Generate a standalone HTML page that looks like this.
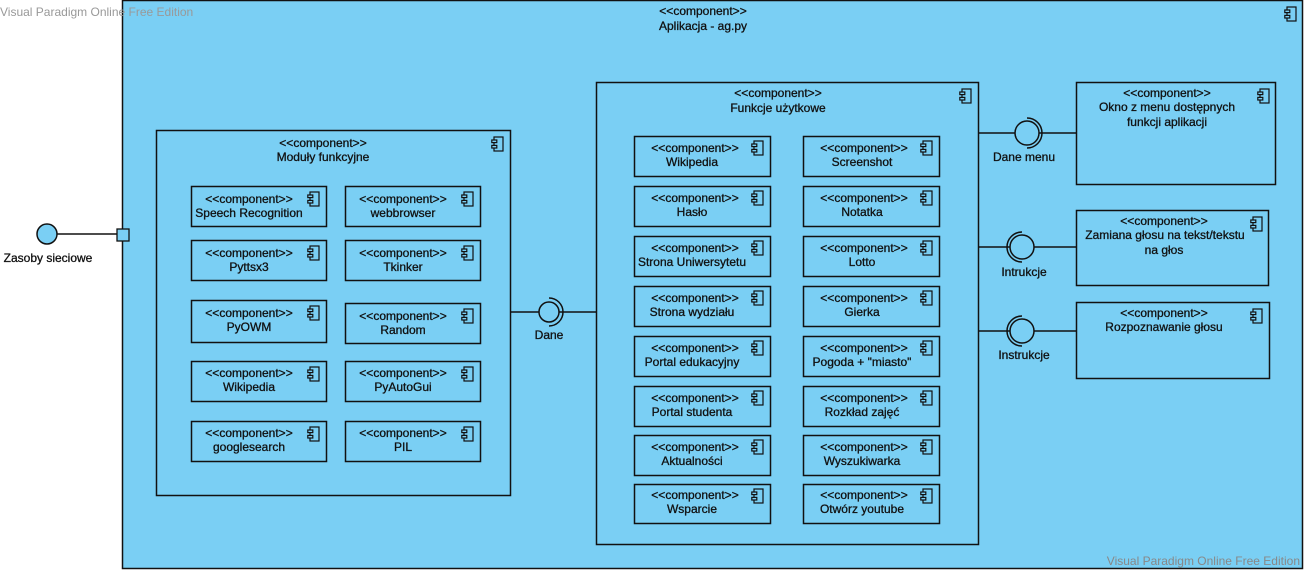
<!DOCTYPE html>
<html><head><meta charset="utf-8"><style>
html,body{margin:0;padding:0;background:#fff;}
svg text{font-family:"Liberation Sans",Arial,sans-serif;font-size:12px;fill:#111;text-anchor:middle;stroke:#111;stroke-width:0.3;}
</style></head><body>
<svg width="1306" height="570" viewBox="0 0 1306 570" xmlns="http://www.w3.org/2000/svg">
<defs>
<symbol id="ic" viewBox="0 0 14 16" width="14" height="16">
<rect x="3" y="1" width="9" height="14" fill="none" stroke="#111" stroke-width="1.2"/>
<rect x="0.8" y="4" width="5" height="2.6" fill="#7acff4" stroke="#111" stroke-width="1.2"/>
<rect x="0.8" y="9.4" width="5" height="2.6" fill="#7acff4" stroke="#111" stroke-width="1.2"/>
</symbol>
</defs>
<g fill="#7acff4" stroke="#111" stroke-width="1.5">
<rect x="122.5" y="0.5" width="1180" height="568"/>
</g>
<text x="0" y="16" style="text-anchor:start;fill:#999;stroke:none">Visual Paradigm Online Free Edition</text>
<text x="1300" y="565" style="text-anchor:end;fill:#888;stroke:none">Visual Paradigm Online Free Edition</text>
<use href="#ic" x="1284" y="6"/>
<text x="703" y="15">&lt;&lt;component&gt;&gt;</text>
<text x="703" y="30">Aplikacja - ag.py</text>

<line x1="57" y1="234" x2="117" y2="234" stroke="#111" stroke-width="1.5"/>
<circle cx="47" cy="234" r="10" fill="#7acff4" stroke="#111" stroke-width="1.5"/>
<rect x="117" y="229" width="12" height="12" fill="#7acff4" stroke="#111" stroke-width="1.3"/>
<text x="48" y="262">Zasoby sieciowe</text>

<g fill="none" stroke="#111" stroke-width="1.5">
<rect x="156.5" y="130.5" width="354" height="365"/>
<rect x="191.5" y="186.5" width="135" height="40"/>
<rect x="345.5" y="186.5" width="135" height="40"/>
<rect x="191.5" y="240.5" width="135" height="40"/>
<rect x="345.5" y="240.5" width="135" height="40"/>
<rect x="191.5" y="300.5" width="135" height="42"/>
<rect x="345.5" y="303.5" width="135" height="40"/>
<rect x="191.5" y="361.5" width="135" height="40"/>
<rect x="345.5" y="361.5" width="135" height="40"/>
<rect x="191.5" y="421.5" width="135" height="40"/>
<rect x="345.5" y="421.5" width="135" height="40"/>
</g>
<use href="#ic" x="491" y="136"/>
<text x="323" y="147">&lt;&lt;component&gt;&gt;</text>
<text x="323" y="161">Moduły funkcyjne</text>
<use href="#ic" x="307" y="191"/><use href="#ic" x="461" y="191"/>
<use href="#ic" x="307" y="245"/><use href="#ic" x="461" y="245"/>
<use href="#ic" x="307" y="305"/><use href="#ic" x="461" y="308"/>
<use href="#ic" x="307" y="366"/><use href="#ic" x="461" y="366"/>
<use href="#ic" x="307" y="426"/><use href="#ic" x="461" y="426"/>
<text x="249" y="203">&lt;&lt;component&gt;&gt;</text><text x="249" y="217">Speech Recognition</text>
<text x="403" y="203">&lt;&lt;component&gt;&gt;</text><text x="403" y="217">webbrowser</text>
<text x="249" y="257">&lt;&lt;component&gt;&gt;</text><text x="249" y="271">Pyttsx3</text>
<text x="403" y="257">&lt;&lt;component&gt;&gt;</text><text x="403" y="271">Tkinker</text>
<text x="249" y="317">&lt;&lt;component&gt;&gt;</text><text x="249" y="331">PyOWM</text>
<text x="403" y="320">&lt;&lt;component&gt;&gt;</text><text x="403" y="334">Random</text>
<text x="249" y="377">&lt;&lt;component&gt;&gt;</text><text x="249" y="391">Wikipedia</text>
<text x="403" y="377">&lt;&lt;component&gt;&gt;</text><text x="403" y="391">PyAutoGui</text>
<text x="249" y="437">&lt;&lt;component&gt;&gt;</text><text x="249" y="451">googlesearch</text>
<text x="403" y="437">&lt;&lt;component&gt;&gt;</text><text x="403" y="451">PIL</text>

<g fill="none" stroke="#111" stroke-width="1.5">
<line x1="511" y1="312" x2="539" y2="312"/>
<line x1="559" y1="312" x2="596" y2="312"/>
<circle cx="549" cy="312" r="10"/>
<path d="M 549 298 A 14 14 0 0 1 549 326"/>
</g>
<text x="549" y="339">Dane</text>

<g fill="none" stroke="#111" stroke-width="1.5">
<rect x="596.5" y="82.5" width="382" height="462"/>
<rect x="634.5" y="136.5" width="136" height="40"/><rect x="803.5" y="136.5" width="136" height="40"/>
<rect x="634.5" y="186.5" width="136" height="40"/><rect x="803.5" y="186.5" width="136" height="40"/>
<rect x="634.5" y="236.5" width="136" height="40"/><rect x="803.5" y="236.5" width="136" height="40"/>
<rect x="634.5" y="286.5" width="136" height="40"/><rect x="803.5" y="286.5" width="136" height="40"/>
<rect x="634.5" y="336.5" width="136" height="40"/><rect x="803.5" y="336.5" width="136" height="40"/>
<rect x="634.5" y="386.5" width="136" height="40"/><rect x="803.5" y="386.5" width="136" height="40"/>
<rect x="634.5" y="435.5" width="136" height="40"/><rect x="803.5" y="435.5" width="136" height="40"/>
<rect x="634.5" y="484.5" width="136" height="39"/><rect x="803.5" y="484.5" width="136" height="39"/>
</g>
<use href="#ic" x="959" y="88"/>
<text x="778" y="97">&lt;&lt;component&gt;&gt;</text>
<text x="778" y="112">Funkcje użytkowe</text>
<use href="#ic" x="751" y="140"/><use href="#ic" x="920" y="140"/>
<use href="#ic" x="751" y="190"/><use href="#ic" x="920" y="190"/>
<use href="#ic" x="751" y="240"/><use href="#ic" x="920" y="240"/>
<use href="#ic" x="751" y="290"/><use href="#ic" x="920" y="290"/>
<use href="#ic" x="751" y="340"/><use href="#ic" x="920" y="340"/>
<use href="#ic" x="751" y="390"/><use href="#ic" x="920" y="390"/>
<use href="#ic" x="751" y="439"/><use href="#ic" x="920" y="439"/>
<use href="#ic" x="751" y="488"/><use href="#ic" x="920" y="488"/>
<text x="695" y="152">&lt;&lt;component&gt;&gt;</text><text x="692" y="166">Wikipedia</text>
<text x="864" y="152">&lt;&lt;component&gt;&gt;</text><text x="862" y="166">Screenshot</text>
<text x="695" y="202">&lt;&lt;component&gt;&gt;</text><text x="692" y="216">Hasło</text>
<text x="864" y="202">&lt;&lt;component&gt;&gt;</text><text x="862" y="216">Notatka</text>
<text x="695" y="252">&lt;&lt;component&gt;&gt;</text><text x="692" y="266">Strona Uniwersytetu</text>
<text x="864" y="252">&lt;&lt;component&gt;&gt;</text><text x="862" y="266">Lotto</text>
<text x="695" y="302">&lt;&lt;component&gt;&gt;</text><text x="692" y="316">Strona wydziału</text>
<text x="864" y="302">&lt;&lt;component&gt;&gt;</text><text x="862" y="316">Gierka</text>
<text x="695" y="352">&lt;&lt;component&gt;&gt;</text><text x="692" y="366">Portal edukacyjny</text>
<text x="864" y="352">&lt;&lt;component&gt;&gt;</text><text x="862" y="366">Pogoda + "miasto"</text>
<text x="695" y="402">&lt;&lt;component&gt;&gt;</text><text x="692" y="416">Portal studenta</text>
<text x="864" y="402">&lt;&lt;component&gt;&gt;</text><text x="862" y="416">Rozkład zajęć</text>
<text x="695" y="451">&lt;&lt;component&gt;&gt;</text><text x="692" y="465">Aktualności</text>
<text x="864" y="451">&lt;&lt;component&gt;&gt;</text><text x="862" y="465">Wyszukiwarka</text>
<text x="695" y="499">&lt;&lt;component&gt;&gt;</text><text x="692" y="513">Wsparcie</text>
<text x="864" y="499">&lt;&lt;component&gt;&gt;</text><text x="862" y="513">Otwórz youtube</text>

<g fill="none" stroke="#111" stroke-width="1.5">
<line x1="979" y1="133" x2="1015" y2="133"/>
<line x1="1039" y1="133" x2="1076" y2="133"/>
<circle cx="1027" cy="133" r="12"/>
<path d="M 1027 118 A 15 15 0 0 1 1027 148"/>
<line x1="979" y1="247" x2="1010" y2="247"/>
<line x1="1034" y1="247" x2="1076" y2="247"/>
<circle cx="1022" cy="247" r="12"/>
<path d="M 1022 232 A 15 15 0 0 0 1022 262"/>
<line x1="979" y1="331" x2="1010" y2="331"/>
<line x1="1034" y1="331" x2="1076" y2="331"/>
<circle cx="1022" cy="331" r="12"/>
<path d="M 1022 316 A 15 15 0 0 0 1022 346"/>
<rect x="1076.5" y="82.5" width="199" height="102"/>
<rect x="1076.5" y="210.5" width="192" height="75"/>
<rect x="1076.5" y="302.5" width="193" height="76"/>
</g>
<text x="1024" y="161">Dane menu</text>
<text x="1024" y="276">Intrukcje</text>
<text x="1024" y="359">Instrukcje</text>
<use href="#ic" x="1257" y="88"/>
<use href="#ic" x="1250" y="216"/>
<use href="#ic" x="1250" y="308"/>
<text x="1167" y="97">&lt;&lt;component&gt;&gt;</text>
<text x="1167" y="111">Okno z menu dostępnych</text>
<text x="1167" y="126">funkcji aplikacji</text>
<text x="1164" y="225">&lt;&lt;component&gt;&gt;</text>
<text x="1165" y="239">Zamiana głosu na tekst/tekstu</text>
<text x="1164" y="254">na głos</text>
<text x="1164" y="317">&lt;&lt;component&gt;&gt;</text>
<text x="1164" y="331">Rozpoznawanie głosu</text>
</svg>
</body></html>
